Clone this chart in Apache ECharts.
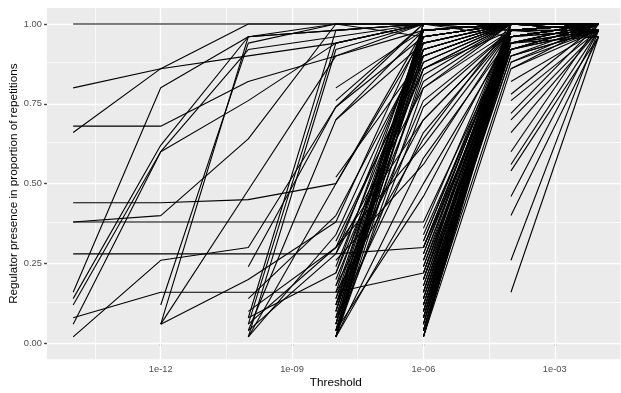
<!DOCTYPE html>
<html>
<head>
<meta charset="utf-8">
<script src="https://cdn.jsdelivr.net/npm/echarts@6/dist/echarts.min.js"></script>
<style>
  html, body { margin: 0; padding: 0; background: #ffffff; }
  #chart { width: 621px; height: 393px; }
</style>
</head>
<body>
<div id="chart"></div>
<script>
// Thresholds tested (x axis, log scale)
const thresholds = [1e-14, 1e-12, 1e-10, 1e-8, 1e-6, 1e-4, 1e-2];

// Axis ticks
const xTickValues = [1e-12, 1e-9, 1e-6, 1e-3];
const xTickLabels = ['1e-12', '1e-09', '1e-06', '1e-03'];
const yTickValues = [0, 0.25, 0.5, 0.75, 1];
const yTickLabels = ['0.00', '0.25', '0.50', '0.75', '1.00'];

// Regulators grouped by the first threshold at which they appear.
// Each row: proportion of repetitions at that threshold and every larger one.
const fromE14 = [
  [1.00, 1.00, 1.00, 1.00, 1.00, 1.00, 1.00],
  [0.80, 0.86, 0.90, 0.94, 1.00, 1.00, 1.00],
  [0.66, 0.86, 1.00, 1.00, 1.00, 1.00, 1.00],
  [0.68, 0.68, 0.82, 0.90, 0.98, 1.00, 1.00],
  [0.16, 0.80, 0.96, 1.00, 1.00, 1.00, 1.00],
  [0.14, 0.62, 0.96, 0.98, 1.00, 1.00, 1.00],
  [0.12, 0.60, 0.92, 0.96, 1.00, 1.00, 0.98],
  [0.06, 0.60, 0.76, 0.94, 1.00, 1.00, 1.00],
  [0.44, 0.44, 0.45, 0.50, 0.98, 1.00, 1.00],
  [0.38, 0.38, 0.38, 0.38, 0.38, 0.96, 1.00],
  [0.38, 0.40, 0.64, 1.00, 0.96, 1.00, 1.00],
  [0.28, 0.28, 0.28, 0.28, 0.30, 0.98, 1.00],
  [0.08, 0.16, 0.16, 0.16, 0.22, 0.96, 1.00],
  [0.02, 0.26, 0.30, 0.74, 0.96, 1.00, 1.00]
];

const fromE12 = [
  [0.12, 0.94, 1.00, 1.00, 1.00, 1.00],
  [0.06, 0.96, 0.98, 1.00, 1.00, 1.00],
  [0.06, 0.48, 0.90, 1.00, 1.00, 1.00],
  [0.06, 0.20, 0.38, 0.98, 1.00, 1.00]
];

const fromE10 = [
  [0.24, 0.74, 1.00, 1.00, 1.00],
  [0.14, 0.40, 0.92, 1.00, 1.00],
  [0.08, 0.98, 1.00, 1.00, 1.00],
  [0.08, 0.22, 0.86, 0.98, 1.00],
  [0.06, 0.94, 1.00, 1.00, 1.00],
  [0.06, 0.30, 0.90, 1.00, 1.00],
  [0.04, 0.70, 0.98, 1.00, 1.00],
  [0.04, 0.28, 0.80, 1.00, 1.00],
  [0.02, 0.92, 1.00, 1.00, 1.00],
  [0.02, 0.50, 0.96, 1.00, 1.00],
  [0.02, 0.34, 0.94, 1.00, 0.98],
  [0.10, 0.30, 0.70, 0.98, 1.00]
];

const fromE8 = [
  [0.80, 0.98, 1.00, 1.00],
  [0.76, 1.00, 0.98, 1.00],
  [0.70, 0.94, 1.00, 1.00],
  [0.52, 0.90, 1.00, 0.98],
  [0.32, 0.88, 1.00, 1.00],
  [0.30, 0.62, 0.98, 1.00],
  [0.28, 0.96, 1.00, 1.00],
  [0.26, 0.56, 0.98, 1.00],
  [0.24, 0.92, 1.00, 1.00],
  [0.22, 0.98, 1.00, 1.00],
  [0.20, 0.86, 1.00, 1.00],
  [0.18, 0.70, 0.98, 1.00],
  [0.18, 0.96, 1.00, 1.00],
  [0.16, 0.94, 1.00, 1.00],
  [0.16, 0.64, 1.00, 1.00],
  [0.14, 0.98, 1.00, 1.00],
  [0.14, 0.82, 1.00, 1.00],
  [0.12, 0.90, 1.00, 1.00],
  [0.12, 0.76, 0.98, 1.00],
  [0.12, 1.00, 0.98, 1.00],
  [0.10, 0.96, 1.00, 1.00],
  [0.10, 0.88, 1.00, 1.00],
  [0.10, 1.00, 1.00, 1.00],
  [0.08, 0.92, 1.00, 1.00],
  [0.08, 0.98, 1.00, 1.00],
  [0.08, 0.66, 0.98, 1.00],
  [0.06, 0.94, 1.00, 1.00],
  [0.06, 0.84, 1.00, 1.00],
  [0.06, 0.98, 1.00, 1.00],
  [0.06, 1.00, 0.96, 1.00],
  [0.04, 0.96, 1.00, 1.00],
  [0.04, 0.90, 1.00, 1.00],
  [0.04, 0.74, 0.98, 1.00],
  [0.04, 0.46, 0.98, 1.00],
  [0.04, 1.00, 1.00, 1.00],
  [0.02, 1.00, 1.00, 1.00],
  [0.02, 0.92, 1.00, 1.00],
  [0.02, 0.86, 1.00, 1.00],
  [0.02, 0.80, 0.98, 1.00],
  [0.02, 0.58, 0.96, 1.00],
  [0.02, 0.50, 0.96, 1.00],
  [0.02, 0.96, 1.00, 1.00],
  [0.02, 0.98, 1.00, 1.00]
];

const fromE6 = [
  [0.02, 0.86, 0.98], [0.02, 0.96, 1.00], [0.02, 1.00, 1.00], [0.02, 0.98, 0.98], [0.02, 0.94, 1.00],
  [0.04, 0.94, 1.00], [0.04, 0.98, 1.00], [0.04, 1.00, 0.98], [0.04, 0.96, 1.00], [0.04, 0.88, 1.00],
  [0.06, 0.92, 0.98], [0.06, 1.00, 1.00], [0.06, 0.96, 1.00], [0.06, 0.98, 0.96],
  [0.08, 0.96, 1.00], [0.08, 0.90, 0.98], [0.08, 1.00, 1.00], [0.08, 0.98, 1.00],
  [0.10, 0.98, 1.00], [0.10, 0.94, 1.00], [0.10, 1.00, 0.98], [0.10, 0.90, 0.98],
  [0.12, 1.00, 1.00], [0.12, 0.96, 0.98], [0.12, 0.92, 1.00],
  [0.14, 0.92, 1.00], [0.14, 0.98, 1.00], [0.14, 1.00, 1.00],
  [0.16, 0.96, 1.00], [0.16, 1.00, 1.00], [0.16, 0.94, 0.98],
  [0.18, 0.94, 0.98], [0.18, 0.98, 1.00],
  [0.20, 0.98, 1.00], [0.20, 0.92, 1.00], [0.20, 1.00, 1.00],
  [0.22, 0.96, 1.00], [0.22, 1.00, 0.98],
  [0.24, 1.00, 1.00], [0.24, 0.94, 0.96],
  [0.26, 0.98, 1.00], [0.26, 0.96, 1.00],
  [0.28, 0.96, 1.00], [0.28, 1.00, 1.00],
  [0.30, 0.92, 1.00], [0.30, 0.98, 0.98],
  [0.32, 0.98, 1.00], [0.32, 1.00, 1.00],
  [0.34, 0.96, 0.98],
  [0.36, 1.00, 1.00]
];

const fromE4 = [
  [0.94, 1.00], [0.92, 0.98], [0.90, 1.00], [0.88, 0.98], [0.86, 1.00],
  [0.82, 0.98], [0.78, 1.00], [0.76, 0.98], [0.72, 1.00], [0.70, 0.98],
  [0.66, 0.98], [0.60, 1.00], [0.56, 0.98], [0.54, 0.96], [0.46, 0.98],
  [0.40, 0.96], [0.26, 0.98], [0.16, 0.96]
];

const groups = [
  [0, fromE14], [1, fromE12], [2, fromE10], [3, fromE8], [4, fromE6], [5, fromE4]
];

const toExp = t => Math.round(Math.log10(t) * 1000) / 1000;

const lineSeries = [];
groups.forEach(([start, rows]) => {
  rows.forEach(row => {
    lineSeries.push({
      type: 'line',
      data: row.map((v, i) => [toExp(thresholds[start + i]), v]),
      symbol: 'none',
      lineStyle: { color: '#000000', width: 1.1 },
      z: 3,
      silent: true,
      animation: false
    });
  });
});

// Panel grid lines (major + minor), kept beneath the data lines
const xMajor = xTickValues.map(toExp);
const xMinor = [-13.5, -10.5, -7.5, -4.5, -1.5];
const yMajor = yTickValues;
const yMinor = [0.125, 0.375, 0.625, 0.875];

const gridSeries = {
  type: 'line',
  data: [],
  z: 1,
  silent: true,
  animation: false,
  markLine: {
    z: 1,
    silent: true,
    animation: false,
    symbol: ['none', 'none'],
    label: { show: false },
    emphasis: { disabled: true },
    data: [
      ...xMinor.map(v => ({ xAxis: v, lineStyle: { color: '#ffffff', width: 0.7, type: 'solid' } })),
      ...yMinor.map(v => ({ yAxis: v, lineStyle: { color: '#ffffff', width: 0.7, type: 'solid' } })),
      ...xMajor.map(v => ({ xAxis: v, lineStyle: { color: '#ffffff', width: 1.4, type: 'solid' } })),
      ...yMajor.map(v => ({ yAxis: v, lineStyle: { color: '#ffffff', width: 1.4, type: 'solid' } }))
    ]
  }
};

const labelFont = 'Liberation Sans, Arial, Helvetica, sans-serif';

const chart = echarts.init(document.getElementById('chart'), null, { renderer: 'canvas' });
chart.setOption({
  animation: false,
  backgroundColor: '#ffffff',
  grid: {
    left: 46.9, top: 8, width: 577.9, height: 351.3,
    show: true, backgroundColor: '#EBEBEB', borderWidth: 0,
    containLabel: false,
    outerBoundsMode: 'none'
  },
  xAxis: {
    type: 'value',
    min: -14.6, max: -1.4,
    name: 'Threshold',
    nameLocation: 'middle',
    nameGap: 17.5,
    nameMoveOverlap: false,
    nameTextStyle: { color: '#000000', fontSize: 11.7, fontFamily: labelFont },
    axisLine: { show: false },
    splitLine: { show: false },
    axisTick: {
      show: true, length: 2.75, customValues: xMajor,
      lineStyle: { color: '#333333', width: 1.4 }
    },
    axisLabel: {
      show: true, customValues: xMajor, margin: 5.5,
      color: '#4D4D4D', fontSize: 9.3, fontFamily: labelFont,
      formatter: v => xTickLabels[xMajor.findIndex(m => Math.abs(m - v) < 1e-6)] || ''
    }
  },
  yAxis: {
    type: 'value',
    min: -0.05, max: 1.05,
    name: 'Regulator presence in proportion of repetitions',
    nameLocation: 'middle',
    nameGap: 27,
    nameMoveOverlap: false,
    nameTextStyle: { color: '#000000', fontSize: 11.7, fontFamily: labelFont },
    axisLine: { show: false },
    splitLine: { show: false },
    axisTick: {
      show: true, length: 2.75, customValues: yMajor,
      lineStyle: { color: '#333333', width: 1.4 }
    },
    axisLabel: {
      show: true, customValues: yMajor, margin: 5,
      color: '#4D4D4D', fontSize: 9.3, fontFamily: labelFont,
      formatter: v => yTickLabels[yMajor.findIndex(m => Math.abs(m - v) < 1e-6)] || ''
    }
  },
  series: [gridSeries, ...lineSeries]
});
</script>
</body>
</html>
